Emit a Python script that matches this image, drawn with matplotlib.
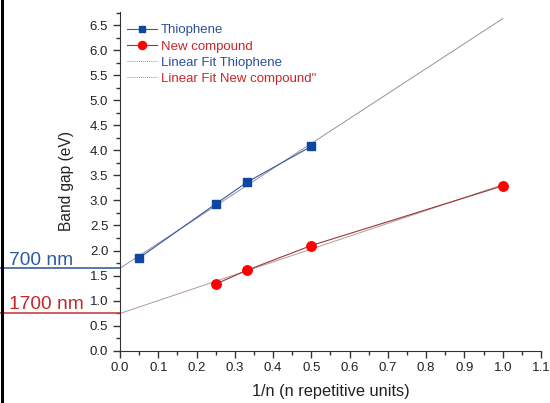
import numpy as np
import matplotlib
matplotlib.use('Agg')
import matplotlib.pyplot as plt
from matplotlib.lines import Line2D
from matplotlib.ticker import MultipleLocator
import matplotlib.transforms as mtransforms

plt.rcParams['font.family'] = ['Liberation Sans', 'DejaVu Sans']

# data
thio_x = [0.05, 0.25, 0.333, 0.5]
thio_y = [1.85, 2.93, 3.37, 4.08]
new_x = [0.25, 0.333, 0.5, 1.0]
new_y = [1.33, 1.61, 2.10, 3.29]
fit_x = [0.0, 1.0]

thio_label = 'Thiophene'
new_label = 'New compound'
thio_fit_label = 'Linear Fit Thiophene'
new_fit_label = 'Linear Fit New compound"'

BLUE = '#0d47a1'
BLUE_TXT = '#2a4f9a'
RED = '#ff0000'
RED_TXT = '#c8262a'
RED_LINE = '#9b3535'

fig = plt.figure(figsize=(5.5, 4.03), dpi=100)
ax = fig.add_axes([0.2182, 0.1298, 0.9836 - 0.2182, 0.970 - 0.1298])

# linear fits
tp = np.polyfit(thio_x, thio_y, 1)
npf = np.polyfit(new_x, new_y, 1)
fx = np.array(fit_x)
ax.plot(fx, np.polyval(tp, fx), color='#8f93a3', lw=0.7, zorder=2)
ax.plot(fx, np.polyval(npf, fx), color='#b09a9a', lw=0.7, zorder=2)

ax.plot(thio_x, thio_y, color='#3a5a9a', lw=0.8, marker='s', ms=6,
        mfc=BLUE, mec=BLUE, zorder=3)
ax.plot(new_x, new_y, color=RED_LINE, lw=0.8, marker='o', ms=6.8,
        mfc=RED, mec=RED, zorder=3)

ax.set_xlim(0, 1.1)
ax.set_ylim(0, 6.76)
ax.xaxis.set_major_locator(MultipleLocator(0.1))
ax.xaxis.set_minor_locator(MultipleLocator(0.05))
ax.yaxis.set_major_locator(MultipleLocator(0.5))
ax.yaxis.set_minor_locator(MultipleLocator(0.25))
ax.xaxis.set_major_formatter(plt.FuncFormatter(lambda v, p: f'{v:.1f}'))
ax.yaxis.set_major_formatter(plt.FuncFormatter(lambda v, p: f'{v:.1f}'))
for s in ('top', 'right'):
    ax.spines[s].set_visible(False)
for s in ('left', 'bottom'):
    ax.spines[s].set_color('#333333')
ax.tick_params(which='major', direction='out', length=5, width=1, labelsize=9.5,
               colors='#333333', labelcolor='#222222')
ax.tick_params(which='minor', direction='out', length=3, width=1, colors='#333333')

ax.set_xlabel('1/n (n repetitive units)', fontsize=11.8, color='#222222', labelpad=7)
ax.set_ylabel('Band gap (eV)', fontsize=11.2, color='#222222', labelpad=11)

handles = [
    Line2D([], [], color='#3a5a9a', lw=0.8, marker='s', ms=5, mfc=BLUE, mec=BLUE),
    Line2D([], [], color=RED_LINE, lw=0.8, marker='o', ms=5.8, mfc=RED, mec=RED),
    Line2D([], [], color='#999999', lw=0.7, ls=(0, (1, 1))),
    Line2D([], [], color='#999999', lw=0.7, ls=(0, (1, 1))),
]
leg = ax.legend(handles, [thio_label, new_label, thio_fit_label, new_fit_label],
                loc='upper left', bbox_to_anchor=(0.0, 0.985), frameon=False,
                fontsize=9.5, handlelength=2.27, handletextpad=0.3,
                labelspacing=0.3, borderaxespad=0.13)
for t, c in zip(leg.get_texts(), [BLUE_TXT, RED_TXT, BLUE_TXT, RED_TXT]):
    t.set_color(c)

# wavelength markers at the fit intercepts, drawn left of the axis
trans = mtransforms.blended_transform_factory(ax.transAxes, ax.transData)
x_left = -0.287
x_txt = -0.264
ax.plot([x_left, 0], [tp[1], tp[1]], color='#3a5fa0', lw=1.2, transform=trans, clip_on=False)
ax.plot([x_left, 0], [npf[1], npf[1]], color='#c8403f', lw=1.2, transform=trans, clip_on=False)
ax.text(x_txt, tp[1] + 0.06, '700 nm', color='#2a5aa0', fontsize=13.8,
        transform=trans, ha='left', va='baseline')
ax.text(x_txt, npf[1] + 0.08, '1700 nm', color='#c8262a', fontsize=13.8,
        transform=trans, ha='left', va='baseline')

# left border of the original panel
fig.add_artist(Line2D([0.004, 0.004], [0, 1], color='black', lw=2.2,
                      transform=fig.transFigure))

fig.savefig('out.png', dpi=100)
